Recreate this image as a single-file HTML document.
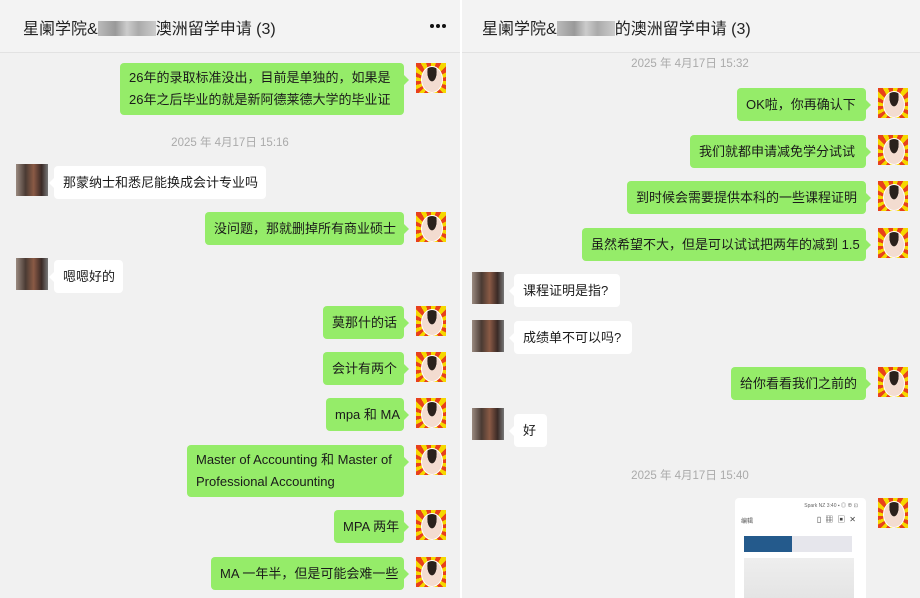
<!DOCTYPE html>
<html><head><meta charset="utf-8"><style>
*{margin:0;padding:0;box-sizing:border-box}
body{width:920px;height:598px;overflow:hidden;background:#f1f1f1;font-family:"Liberation Sans","Noto Sans CJK SC",sans-serif;position:relative;color:#1a1a1a}
.p{position:absolute;top:0;height:598px;background:#f1f1f1;overflow:hidden}
.hd{position:absolute;left:0;right:0;top:0;height:53px;border-bottom:1px solid #e2e2e2;background:#f3f3f3}
.t{position:absolute;top:15px;font-size:16px;color:#222}
.blur{display:inline-block;width:58px;height:15px;background:linear-gradient(90deg,#bbb,#999 30%,#ccc 50%,#aaa 70%,#ccc);vertical-align:-2px}
.dot{position:absolute;top:24px;width:4px;height:4px;border-radius:50%;background:#111}
.b{position:absolute;font-size:13px;line-height:25px;padding:4px 9px;border-radius:4px;white-space:nowrap}
.two{line-height:22px;padding:4px 9px}
.g{background:#95ec69}
.w{background:#fff}
.g:after{content:"";position:absolute;right:-5px;top:12px;border:5px solid transparent;border-right:0;border-left-color:#95ec69}
.w:before{content:"";position:absolute;left:-5px;top:12px;border:5px solid transparent;border-left:0;border-right-color:#fff}
.av{position:absolute;width:30px;height:30px;background:repeating-conic-gradient(from 0deg at 50% 60%,#f5d800 0 15deg,#e8401c 15deg 30deg)}
.av:after{content:"";position:absolute;left:5px;top:3px;width:20px;height:25px;border-radius:50%;background:radial-gradient(ellipse at 50% 20%,#2a211c 0 32%,#f3dcd0 34%);border:1px solid #fff}
.ov{position:absolute;width:32px;height:32px;background:linear-gradient(90deg,#9a8a80,#4a3a33 30%,#8a5a45 55%,#3a2a26 80%,#777)}
.ts{position:absolute;font-size:11.5px;color:#aaa;width:200px;text-align:center}
</style></head><body>
<div class="p" style="left:0;width:460px">
<div class="hd"><div class="t" style="left:23px">星阑学院&amp;<span class="blur"></span>澳洲留学申请 (3)</div>
<div class="dot" style="left:430px"></div><div class="dot" style="left:436px"></div><div class="dot" style="left:442px"></div></div>
<div class="b g two" style="left:120px;top:63px;width:284px">26年的录取标准没出，目前是单独的，如果是<br>26年之后毕业的就是新阿德莱德大学的毕业证</div>
<div class="av" style="left:416px;top:63px"></div>
<div class="ts" style="left:130px;top:134px">2025 年 4月17日 15:16</div>
<div class="ov" style="left:16px;top:164px"></div>
<div class="b w" style="left:54px;top:166px;width:212px">那蒙纳士和悉尼能换成会计专业吗</div>
<div class="b g" style="left:205px;top:212px;width:199px">没问题，那就删掉所有商业硕士</div><div class="av" style="left:416px;top:212px"></div>
<div class="ov" style="left:16px;top:258px"></div>
<div class="b w" style="left:54px;top:260px;width:69px">嗯嗯好的</div>
<div class="b g" style="left:323px;top:306px;width:81px">莫那什的话</div><div class="av" style="left:416px;top:306px"></div>
<div class="b g" style="left:323px;top:352px;width:81px">会计有两个</div><div class="av" style="left:416px;top:352px"></div>
<div class="b g" style="left:326px;top:398px;width:78px">mpa 和 MA</div><div class="av" style="left:416px;top:398px"></div>
<div class="b g two" style="left:187px;top:445px;width:217px">Master of Accounting 和 Master of<br>Professional Accounting</div><div class="av" style="left:416px;top:445px"></div>
<div class="b g" style="left:334px;top:510px;width:70px">MPA 两年</div><div class="av" style="left:416px;top:510px"></div>
<div class="b g" style="left:211px;top:557px;width:193px">MA 一年半，但是可能会难一些</div><div class="av" style="left:416px;top:557px"></div>
</div>
<div style="position:absolute;left:460px;top:0;width:2px;height:598px;background:#fff"></div>
<div class="p" style="left:462px;width:458px">
<div class="hd"><div class="t" style="left:20px">星阑学院&amp;<span class="blur"></span>的澳洲留学申请 (3)</div></div>
<div class="ts" style="left:128px;top:55px">2025 年 4月17日 15:32</div>
<div class="b g" style="left:275px;top:88px;width:129px">OK啦，你再确认下</div><div class="av" style="left:416px;top:88px"></div>
<div class="b g" style="left:228px;top:135px;width:176px">我们就都申请减免学分试试</div><div class="av" style="left:416px;top:135px"></div>
<div class="b g" style="left:165px;top:181px;width:239px">到时候会需要提供本科的一些课程证明</div><div class="av" style="left:416px;top:181px"></div>
<div class="b g" style="left:120px;top:228px;width:284px">虽然希望不大，但是可以试试把两年的减到 1.5</div><div class="av" style="left:416px;top:228px"></div>
<div class="ov" style="left:10px;top:272px"></div>
<div class="b w" style="left:52px;top:274px;width:106px">课程证明是指?</div>
<div class="ov" style="left:10px;top:320px"></div>
<div class="b w" style="left:52px;top:321px;width:118px">成绩单不可以吗?</div>
<div class="b g" style="left:269px;top:367px;width:135px">给你看看我们之前的</div><div class="av" style="left:416px;top:367px"></div>
<div class="ov" style="left:10px;top:408px"></div>
<div class="b w" style="left:52px;top:414px;width:33px">好</div>
<div class="ts" style="left:128px;top:467px">2025 年 4月17日 15:40</div>
<div class="av" style="left:416px;top:498px"></div>
<div style="position:absolute;left:273px;top:498px;width:131px;height:110px;background:#fff;border-radius:4px">
<div style="position:absolute;right:8px;top:4px;font-size:5px;color:#666">Spark NZ 3:40 ▪ ◎ ⊕ ⊡</div>
<div style="position:absolute;left:6px;top:18px;font-size:6px;color:#555">编辑</div>
<div style="position:absolute;right:6px;top:16px;font-size:8px;color:#444;letter-spacing:4px">▯▦▣✕</div>
<div style="position:absolute;left:9px;top:38px;width:48px;height:16px;background:#245a8c"></div>
<div style="position:absolute;left:57px;top:38px;width:60px;height:16px;background:#e6e6ec"></div>
<div style="position:absolute;left:9px;top:60px;width:110px;height:50px;background:linear-gradient(#eee,#e2e2e2)"></div>
</div>
</div>
</body></html>
